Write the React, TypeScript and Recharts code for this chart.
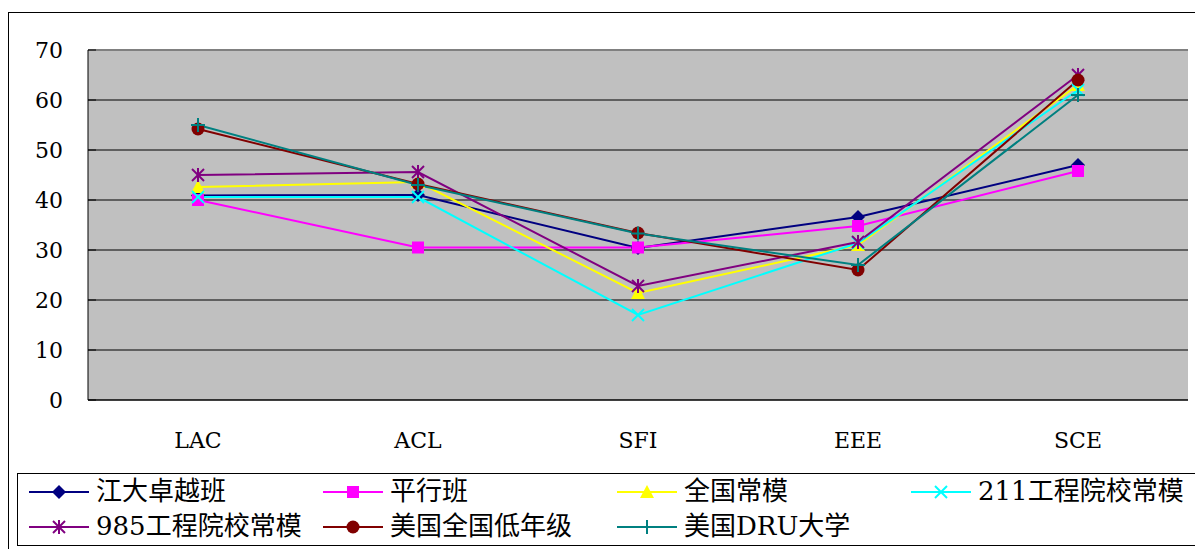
import React from "react";
import {
  LineChart,
  Line,
  XAxis,
  YAxis,
  CartesianGrid,
  Legend,
  ReferenceLine,
} from "recharts";

const categories = ["LAC", "ACL", "SFI", "EEE", "SCE"];
const yTicks = [0, 10, 20, 30, 40, 50, 60, 70];

const jiangda = [40.9, 41, 30.4, 36.6, 47];
const pingxing = [40, 30.5, 30.5, 34.8, 45.8];
const quanguo = [42.6, 43.6, 21.4, 31, 63];
const gc211 = [40.6, 40.6, 17, 31.4, 62];
const gc985 = [45, 45.6, 22.8, 31.6, 65];
const usLow = [54.2, 43.2, 33.4, 26, 64];
const usDru = [55, 43, 33.3, 27, 61];

const seriesNames = [
  "江大卓越班",
  "平行班",
  "全国常模",
  "211工程院校常模",
  "985工程院校常模",
  "美国全国低年级",
  "美国DRU大学",
];

const data = categories.map((c, i) => ({
  name: c,
  s0: jiangda[i],
  s1: pingxing[i],
  s2: quanguo[i],
  s3: gc211[i],
  s4: gc985[i],
  s5: usLow[i],
  s6: usDru[i],
}));

const colors = ["#000080", "#ff00ff", "#ffff00", "#00ffff", "#800080", "#800000", "#008080"];
const shapes = ["diamond", "square", "triangle", "x", "star", "circle", "plus"];

const serif = "DejaVu Serif, Liberation Serif, Noto Sans CJK SC, serif";

const Marker = ({ cx, cy, shape, color }: any) => {
  switch (shape) {
    case "diamond":
      return <polygon points={`${cx},${cy - 7} ${cx + 7},${cy} ${cx},${cy + 7} ${cx - 7},${cy}`} fill={color} />;
    case "square":
      return <rect x={cx - 6} y={cy - 6} width={12} height={12} fill={color} />;
    case "triangle":
      return <polygon points={`${cx},${cy - 7} ${cx + 7},${cy + 6} ${cx - 7},${cy + 6}`} fill={color} />;
    case "x":
      return (
        <g stroke={color} strokeWidth={2}>
          <line x1={cx - 6} y1={cy - 6} x2={cx + 6} y2={cy + 6} />
          <line x1={cx - 6} y1={cy + 6} x2={cx + 6} y2={cy - 6} />
        </g>
      );
    case "star":
      return (
        <g stroke={color} strokeWidth={2}>
          <line x1={cx - 6} y1={cy - 6} x2={cx + 6} y2={cy + 6} />
          <line x1={cx - 6} y1={cy + 6} x2={cx + 6} y2={cy - 6} />
          <line x1={cx} y1={cy - 7} x2={cx} y2={cy + 7} />
        </g>
      );
    case "circle":
      return <circle cx={cx} cy={cy} r={6.5} fill={color} />;
    default:
      return (
        <g stroke={color} strokeWidth={2}>
          <line x1={cx - 7} y1={cy} x2={cx + 7} y2={cy} />
          <line x1={cx} y1={cy - 7} x2={cx} y2={cy + 7} />
        </g>
      );
  }
};

const LegendBox = () => (
  <div
    style={{
      width: 1178,
      height: 71,
      border: "1px solid #000",
      boxSizing: "content-box",
      display: "grid",
      gridTemplateColumns: "294px 294px 294px 294px",
      gridTemplateRows: "35px 35px",
      fontFamily: serif,
      fontSize: 26,
      color: "#000",
      background: "#fff",
    }}
  >
    {seriesNames.map((n, i) => (
      <div key={n} style={{ display: "flex", alignItems: "center", paddingLeft: 11, whiteSpace: "nowrap" }}>
        <svg width={64} height={20} style={{ flex: "none" }}>
          <line x1={0} y1={10} x2={60} y2={10} stroke={colors[i]} strokeWidth={2} />
          <Marker cx={30} cy={10} shape={shapes[i]} color={colors[i]} />
        </svg>
        <span style={{ marginLeft: 3, lineHeight: "35px" }}>{n}</span>
      </div>
    ))}
  </div>
);

const tickFont = { fontFamily: serif, fontSize: 22, fill: "#000" };

export default function App() {
  return (
    <div style={{ position: "relative", width: 1195, height: 541, overflow: "hidden" }}>
      <div
        style={{
          position: "absolute",
          top: 4,
          left: 0,
          width: 1300,
          height: 700,
          border: "1px solid #000",
        }}
      />
      <LineChart
        width={1195}
        height={541}
        data={data}
        margin={{ top: 42, right: 15, left: 20, bottom: 3 }}
      >
        <CartesianGrid fill="#c0c0c0" stroke="#000" vertical={false} strokeWidth={1} />
        <XAxis
          xAxisId="b"
          type="number"
          domain={[0, 5]}
          ticks={[0, 1, 2, 3, 4, 5]}
          axisLine={false}
          tick={{ fontSize: 1, fill: "none" }}
          tickFormatter={() => ""}
          tickSize={-7}
          tickLine={{ stroke: "#000" }}
          height={0}
        />
        <XAxis
          dataKey="name"
          tick={tickFont}
          tickLine={false}
          axisLine={{ stroke: "#000" }}
          tickMargin={26}
          height={73}
          interval={0}
          padding={{ left: 110, right: 110 }}
        />
        <YAxis
          domain={[0, 70]}
          ticks={yTicks}
          tick={tickFont}
          tickSize={-8}
          tickMargin={33}
          tickLine={{ stroke: "#000" }}
          axisLine={{ stroke: "#000" }}
          width={60}
          interval={0}
        />
        <ReferenceLine y={70} stroke="#808080" strokeWidth={2} />
        <ReferenceLine x={5} xAxisId="b" stroke="#808080" strokeWidth={2} />
        <Legend verticalAlign="bottom" content={<LegendBox />} wrapperStyle={{ left: 9, bottom: 3, width: 1180 }} />
        {seriesNames.map((n, i) => (
          <Line
            key={n}
            name={n}
            dataKey={`s${i}`}
            type="linear"
            stroke={colors[i]}
            strokeWidth={2}
            isAnimationActive={false}
            dot={(p: any) => <Marker key={`${i}-${p.index}`} cx={p.cx} cy={p.cy} shape={shapes[i]} color={colors[i]} />}
            activeDot={false}
          />
        ))}
      </LineChart>
    </div>
  );
}
